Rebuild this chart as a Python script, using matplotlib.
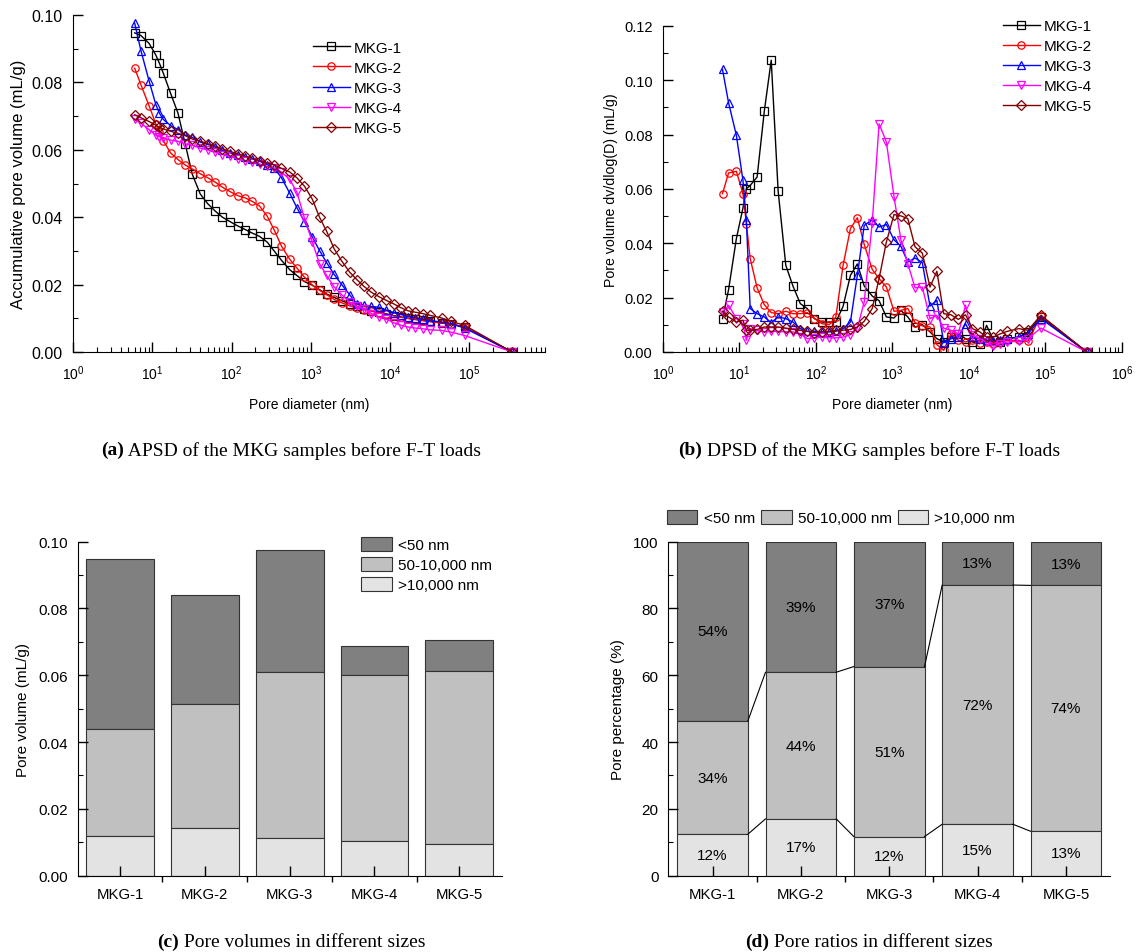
import numpy as np
import matplotlib
matplotlib.use('Agg')
import matplotlib.pyplot as plt
from matplotlib.ticker import MultipleLocator, LogLocator, NullFormatter, FixedLocator

plt.rcParams['font.family'] = ['Liberation Sans', 'DejaVu Sans']
plt.rcParams['font.size'] = 10

# pore diameter grid (nm), same intrusion steps for every sample
diam = [6.0, 7.2, 9.1, 11.1, 12.3, 13.8, 17.0, 21.1, 26.0, 32.0,
        40.3, 50.1, 62.4, 76.7, 95.5, 120, 150, 182, 226, 282,
        347, 427, 543, 668, 832, 1047, 1288, 1585, 1972, 2455,
        3090, 3802, 4677, 5821, 7244, 9016, 11092, 13800, 16982, 20893,
        25704, 31623, 44668, 58884, 87096, 346737]

samples = ['MKG-1', 'MKG-2', 'MKG-3', 'MKG-4', 'MKG-5']

# (a) accumulative pore volume, mL/g
apsd_1 = [0.0947, 0.0939, 0.0916, 0.0881, 0.0857, 0.0827, 0.0768, 0.0709, 0.0618, 0.0527,
          0.0469, 0.0440, 0.0418, 0.0400, 0.0387, 0.0374, 0.0363, 0.0353, 0.0343, 0.0326,
          0.0299, 0.0272, 0.0244, 0.0227, 0.0209, 0.0198, 0.0185, 0.0172, 0.0162, 0.0152,
          0.0143, 0.0135, 0.0128, 0.0123, 0.0118, 0.0113, 0.0108, 0.0104, 0.0100, 0.0097,
          0.0094, 0.0091, 0.0087, 0.0083, 0.0074, 0.0]
apsd_2 = [0.0842, 0.0793, 0.0731, 0.0677, 0.0652, 0.0627, 0.0591, 0.0571, 0.0555, 0.0543,
          0.0529, 0.0517, 0.0504, 0.0489, 0.0476, 0.0464, 0.0457, 0.0447, 0.0433, 0.0403,
          0.0361, 0.0314, 0.0275, 0.0249, 0.0222, 0.0198, 0.0183, 0.0170, 0.0156, 0.0146,
          0.0137, 0.0131, 0.0125, 0.0121, 0.0116, 0.0112, 0.0107, 0.0103, 0.0099, 0.0096,
          0.0093, 0.0090, 0.0086, 0.0083, 0.0074, 0.0]
apsd_3 = [0.0976, 0.0894, 0.0805, 0.0734, 0.0709, 0.0690, 0.0672, 0.0660, 0.0644, 0.0637,
          0.0623, 0.0616, 0.0608, 0.0598, 0.0591, 0.0585, 0.0578, 0.0573, 0.0566, 0.0556,
          0.0545, 0.0517, 0.0471, 0.0428, 0.0387, 0.0341, 0.0301, 0.0265, 0.0230, 0.0200,
          0.0170, 0.0143, 0.0138, 0.0135, 0.0133, 0.0124, 0.0117, 0.0111, 0.0105, 0.0101,
          0.0097, 0.0093, 0.0089, 0.0084, 0.0071, 0.0]
apsd_4 = [0.0692, 0.0679, 0.0660, 0.0644, 0.0639, 0.0634, 0.0629, 0.0625, 0.0618, 0.0613,
          0.0605, 0.0600, 0.0593, 0.0586, 0.0581, 0.0573, 0.0568, 0.0563, 0.0558, 0.0551,
          0.0545, 0.0534, 0.0512, 0.0474, 0.0397, 0.0326, 0.0262, 0.0227, 0.0193, 0.0170,
          0.0148, 0.0135, 0.0128, 0.0114, 0.0104, 0.0097, 0.0087, 0.0079, 0.0074, 0.0071,
          0.0069, 0.0066, 0.0064, 0.0059, 0.0049, 0.0]
apsd_5 = [0.0704, 0.0695, 0.0684, 0.0673, 0.0667, 0.0662, 0.0655, 0.0649, 0.0642, 0.0632,
          0.0625, 0.0618, 0.0611, 0.0603, 0.0595, 0.0588, 0.0581, 0.0575, 0.0568, 0.0561,
          0.0555, 0.0545, 0.0534, 0.0517, 0.0492, 0.0453, 0.0400, 0.0358, 0.0306, 0.0270,
          0.0237, 0.0215, 0.0195, 0.0177, 0.0164, 0.0153, 0.0143, 0.0131, 0.0122, 0.0118,
          0.0114, 0.0109, 0.0101, 0.0091, 0.0079, 0.0]

# (b) dv/dlog(D), mL/g
dpsd_1 = [0.0123, 0.0229, 0.0417, 0.0530, 0.0601, 0.0613, 0.0644, 0.0886, 0.1074, 0.0593,
          0.0319, 0.0242, 0.0178, 0.0160, 0.0123, 0.0110, 0.0110, 0.0110, 0.0168, 0.0282,
          0.0324, 0.0243, 0.0206, 0.0189, 0.0129, 0.0125, 0.0153, 0.0129, 0.0092, 0.0101,
          0.0074, 0.0049, 0.0037, 0.0055, 0.0067, 0.0049, 0.0037, 0.0031, 0.0098, 0.0043,
          0.0037, 0.0049, 0.0055, 0.0074, 0.0129, 0.0]
dpsd_2 = [0.0583, 0.0659, 0.0665, 0.0583, 0.0472, 0.0344, 0.0236, 0.0174, 0.0145, 0.0141,
          0.0150, 0.0141, 0.0141, 0.0145, 0.0123, 0.0104, 0.0101, 0.0129, 0.0319, 0.0454,
          0.0494, 0.0396, 0.0304, 0.0270, 0.0239, 0.0150, 0.0153, 0.0160, 0.0108, 0.0096,
          0.0092, 0.0027, 0.0006, 0.0067, 0.0043, 0.0037, 0.0043, 0.0034, 0.0037, 0.0031,
          0.0037, 0.0043, 0.0043, 0.0039, 0.0133, 0.0]
dpsd_3 = [0.1040, 0.0917, 0.0798, 0.0632, 0.0485, 0.0160, 0.0141, 0.0129, 0.0108, 0.0129,
          0.0123, 0.0110, 0.0086, 0.0076, 0.0076, 0.0074, 0.0074, 0.0076, 0.0086, 0.0110,
          0.0282, 0.0466, 0.0487, 0.0460, 0.0469, 0.0413, 0.0389, 0.0331, 0.0346, 0.0329,
          0.0169, 0.0190, 0.0034, 0.0049, 0.0055, 0.0104, 0.0055, 0.0049, 0.0043, 0.0039,
          0.0043, 0.0049, 0.0055, 0.0067, 0.0123, 0.0]
dpsd_4 = [0.0147, 0.0172, 0.0123, 0.0104, 0.0043, 0.0086, 0.0080, 0.0074, 0.0076, 0.0076,
          0.0074, 0.0074, 0.0067, 0.0049, 0.0052, 0.0055, 0.0052, 0.0052, 0.0055, 0.0064,
          0.0088, 0.0184, 0.0475, 0.0840, 0.0773, 0.0571, 0.0413, 0.0325, 0.0236, 0.0239,
          0.0123, 0.0135, 0.0088, 0.0080, 0.0067, 0.0172, 0.0061, 0.0049, 0.0037, 0.0022,
          0.0031, 0.0037, 0.0039, 0.0049, 0.0088, 0.0]
dpsd_5 = [0.0150, 0.0129, 0.0110, 0.0117, 0.0080, 0.0080, 0.0083, 0.0092, 0.0092, 0.0092,
          0.0088, 0.0083, 0.0080, 0.0076, 0.0071, 0.0074, 0.0076, 0.0080, 0.0080, 0.0083,
          0.0092, 0.0113, 0.0160, 0.0270, 0.0405, 0.0506, 0.0501, 0.0491, 0.0387, 0.0364,
          0.0239, 0.0297, 0.0141, 0.0137, 0.0120, 0.0137, 0.0086, 0.0074, 0.0055, 0.0055,
          0.0067, 0.0076, 0.0086, 0.0080, 0.0135, 0.0]

# (c) pore volumes by size range, mL/g
vol_gt10000 = [0.0118, 0.0142, 0.0114, 0.0105, 0.0094]
vol_mid = [0.0321, 0.0371, 0.0497, 0.0495, 0.0518]
vol_lt50 = [0.0509, 0.0328, 0.0365, 0.0089, 0.0095]

# (d) pore ratios, %
pct_gt10000 = [12.4, 17.0, 11.7, 15.4, 13.3]
pct_mid = [33.9, 43.9, 50.9, 71.6, 73.6]
pct_lt50 = [53.7, 39.1, 37.4, 13.0, 13.1]

range_names = ['<50 nm', '50-10,000 nm', '>10,000 nm']
range_colors = ['#808080', '#c0c0c0', '#e3e3e3']

line_colors = ['black', 'red', 'blue', 'magenta', '#800000']
markers = ['s', 'o', '^', 'v', 'D']

fig = plt.figure(figsize=(11.37, 9.53), dpi=100)
ax_a = fig.add_axes([0.0642, 0.6296, 0.4151, 0.3536])
ax_b = fig.add_axes([0.5831, 0.6296, 0.4037, 0.3421])
ax_c = fig.add_axes([0.0683, 0.0801, 0.3729, 0.3505])
ax_d = fig.add_axes([0.5878, 0.0801, 0.3885, 0.3505])

for ax in (ax_a, ax_b, ax_c, ax_d):
    ax.spines['top'].set_visible(False)
    ax.spines['right'].set_visible(False)

def line_panel(ax, series, ylabel, ymax, xmax, legend_pos, ysize, ylsize):
    for name, ys, c, m in zip(samples, series, line_colors, markers):
        ms = 4.8 if m == 'D' else 5.3
        ax.plot(diam, ys, color=c, lw=1, marker=m, ms=ms, mfc='none', mew=0.9, label=name)
    ax.set_xscale('log')
    ax.set_xlim(1, xmax)
    ax.set_ylim(0, ymax)
    ax.yaxis.set_major_locator(MultipleLocator(0.02))
    ax.yaxis.set_minor_locator(MultipleLocator(0.01))
    ax.yaxis.set_major_formatter(plt.FormatStrFormatter('%.2f'))
    ax.xaxis.set_major_locator(LogLocator(base=10, numticks=10))
    ax.xaxis.set_minor_locator(LogLocator(base=10, subs=np.arange(2, 10), numticks=20))
    ax.xaxis.set_minor_formatter(NullFormatter())
    ax.tick_params(which='major', direction='in', length=7, width=1)
    ax.tick_params(which='minor', direction='in', length=3.5, width=0.8)
    ax.tick_params(axis='x', which='major', labelsize=10, pad=8)
    ax.tick_params(axis='y', which='major', labelsize=ysize, pad=7.5)
    ax.set_xlabel('Pore diameter (nm)', fontsize=10, labelpad=11)
    ax.set_ylabel(ylabel, fontsize=ylsize, labelpad=4)
    ax.legend(loc='upper left', bbox_to_anchor=legend_pos, frameon=False, fontsize=11,
              handlelength=2.4, labelspacing=0.4, handletextpad=0.25, borderaxespad=0)

line_panel(ax_a, [apsd_1, apsd_2, apsd_3, apsd_4, apsd_5],
           'Accumulative pore volume (mL/g)', 0.10, 9e5, (0.4956, 0.942), 11.5, 12)
line_panel(ax_b, [dpsd_1, dpsd_2, dpsd_3, dpsd_4, dpsd_5],
           'Pore volume dv/dlog(D) (mL/g)', 0.12, 1e6, (0.7275, 1.04), 10.5, 10.2)

# stacked bars
x = np.arange(len(samples))
w = 0.8

def bar_panel(ax, low, mid, high):
    b1 = ax.bar(x, high, w, bottom=np.array(low) + np.array(mid), color=range_colors[0],
                edgecolor='#333333', lw=0.8, label=range_names[0])
    b2 = ax.bar(x, mid, w, bottom=low, color=range_colors[1],
                edgecolor='#333333', lw=0.8, label=range_names[1])
    b3 = ax.bar(x, low, w, color=range_colors[2],
                edgecolor='#333333', lw=0.8, label=range_names[2])
    ax.set_xlim(-0.5, len(samples) - 0.5)
    ax.set_xticks(x)
    ax.set_xticklabels(samples)
    ax.xaxis.set_minor_locator(FixedLocator(x[:-1] + 0.5))
    ax.tick_params(axis='x', which='major', direction='in', length=7, width=1, pad=8, labelsize=10.7)
    ax.tick_params(axis='x', which='minor', direction='out', length=4, width=1)
    ax.tick_params(axis='y', which='major', direction='in', length=7, width=1, labelsize=11, pad=7)
    ax.tick_params(axis='y', which='minor', direction='in', length=3.5, width=0.8)
    return [b1, b2, b3]

hs = bar_panel(ax_c, vol_gt10000, vol_mid, vol_lt50)
ax_c.set_ylim(0, 0.10)
ax_c.yaxis.set_major_locator(MultipleLocator(0.02))
ax_c.yaxis.set_minor_locator(MultipleLocator(0.01))
ax_c.yaxis.set_major_formatter(plt.FormatStrFormatter('%.2f'))
ax_c.set_ylabel('Pore volume (mL/g)', fontsize=11, labelpad=6)
ax_c.legend(hs, range_names, loc='upper left', bbox_to_anchor=(0.654, 1.032), frameon=False,
            fontsize=11, handlelength=2.0, handleheight=1.05, labelspacing=0.3,
            handletextpad=0.4, borderaxespad=0)

hs = bar_panel(ax_d, pct_gt10000, pct_mid, pct_lt50)
ax_d.set_ylim(0, 100)
ax_d.yaxis.set_major_locator(MultipleLocator(20))
ax_d.yaxis.set_minor_locator(MultipleLocator(10))
ax_d.set_ylabel('Pore percentage (%)', fontsize=11, labelpad=6)
ax_d.legend(hs, range_names, loc='lower left', bbox_to_anchor=(-0.017, 1.032), ncol=3,
            frameon=False, fontsize=11, handlelength=2.0, handleheight=1.05,
            columnspacing=0.4, handletextpad=0.4, borderaxespad=0)

# connecting lines between bars and percentage labels
lev1 = np.array(pct_gt10000)
lev2 = lev1 + np.array(pct_mid)
for i in range(len(samples) - 1):
    for lev in (lev1, lev2):
        ax_d.plot([x[i] + w / 2, x[i + 1] - w / 2], [lev[i], lev[i + 1]], color='black', lw=0.8)
for i in range(len(samples)):
    ax_d.text(x[i], lev1[i] / 2, f'{pct_gt10000[i]:.0f}%', ha='center', va='center', fontsize=11)
    ax_d.text(x[i], (lev1[i] + lev2[i]) / 2, f'{pct_mid[i]:.0f}%', ha='center', va='center', fontsize=11)
    ax_d.text(x[i], (lev2[i] + 100) / 2, f'{pct_lt50[i]:.0f}%', ha='center', va='center', fontsize=11)

# captions, bold tag followed by plain text
serif = ['Liberation Serif', 'DejaVu Serif']
caps = [(0.256, 0.527, '(a)', ' APSD of the MKG samples before F-T loads'),
        (0.764, 0.527, '(b)', ' DPSD of the MKG samples before F-T loads'),
        (0.256, 0.011, '(c)', ' Pore volumes in different sizes'),
        (0.764, 0.011, '(d)', ' Pore ratios in different sizes')]
fig.canvas.draw()
r = fig.canvas.get_renderer()
for cx, cy, tag, txt in caps:
    t1 = fig.text(0, cy, tag, ha='left', va='center', fontsize=14, fontweight='bold', family=serif)
    t2 = fig.text(0, cy, txt, ha='left', va='center', fontsize=14, family=serif)
    w1 = t1.get_window_extent(r).width / fig.bbox.width
    w2 = t2.get_window_extent(r).width / fig.bbox.width
    x0 = cx - (w1 + w2) / 2
    t1.set_x(x0)
    t2.set_x(x0 + w1)

fig.savefig('out.png', dpi=100)
